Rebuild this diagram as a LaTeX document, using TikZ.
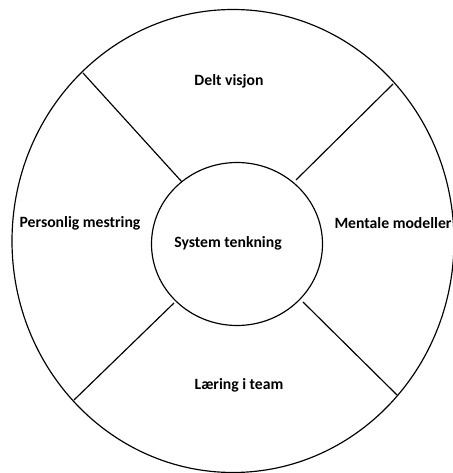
\documentclass[tikz,border=0pt]{standalone}
\usepackage{fontspec}
\setmainfont{Carlito}
\usetikzlibrary{shapes.geometric}

\begin{document}
\begin{tikzpicture}[x=0.03cm, y=0.03cm,
    ring/.style={draw=black, line width=1pt},
    divider/.style={draw=black, line width=1pt},
    fieldlabel/.style={font=\bfseries\fontsize{13.4}{15}\selectfont, inner sep=0pt}]
    \useasboundingbox (0,0) rectangle (453,473);
    % Outer and inner ring
    \draw[ring] (233,232) ellipse [x radius=221, y radius=231.5];
    \draw[ring] (237,229) ellipse [x radius=85.5, y radius=81.5];

    % End points of the four dividers
    \coordinate (ulOut) at (83,400);   \coordinate (ulIn) at (182,291);
    \coordinate (urOut) at (393,389);  \coordinate (urIn) at (296,293);
    \coordinate (llOut) at (74,73);    \coordinate (llIn) at (174,170);
    \coordinate (lrOut) at (397,78);   \coordinate (lrIn) at (303,171);
    \draw[divider] (ulOut) -- (ulIn);
    \draw[divider] (urOut) -- (urIn);
    \draw[divider] (llOut) -- (llIn);
    \draw[divider] (lrOut) -- (lrIn);

    % Labels
    \node[fieldlabel] (vision) at (229,392) {Delt visjon};
    \node[fieldlabel] (mastery) at (80,250) {Personlig mestring};
    \node[fieldlabel] (models) at (393,250) {Mentale modeller};
    \node[fieldlabel] (system) at (228,230) {System tenkning};
    \node[fieldlabel] (team) at (239,88) {Læring i team};
\end{tikzpicture}
\end{document}
